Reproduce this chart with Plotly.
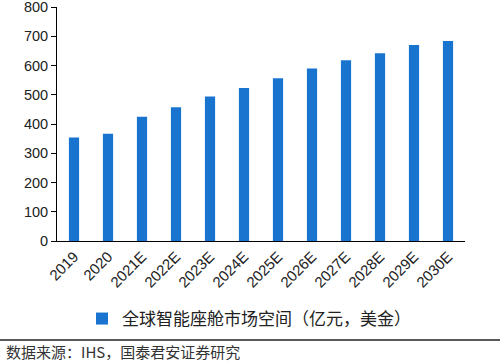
import plotly.graph_objects as go

categories = ["2019", "2020", "2021E", "2022E", "2023E", "2024E", "2025E",
              "2026E", "2027E", "2028E", "2029E", "2030E"]
values = [354, 367, 425, 457, 494, 523, 556, 590, 618, 642, 670, 684]
series_name = "全球智能座舱市场空间（亿元，美金）"
source_text = "数据来源：IHS，国泰君安证券研究"

L, R, T, B = 57, 35, 7, 121
W, H = 500, 362
pw = W - L - R
ph = H - T - B

def px_x(x):
    return (x - L) / pw

def px_y(y):
    return (H - B - y) / ph

fig = go.Figure()
fig.add_trace(go.Bar(
    x=categories, y=values, name=series_name,
    marker=dict(color="#1874CF", line=dict(width=0)),
    showlegend=True,
))

fig.update_layout(
    width=W, height=H,
    margin=dict(l=L, r=R, t=T, b=B, autoexpand=False),
    plot_bgcolor="white", paper_bgcolor="white",
    bargap=0.7,
    font=dict(family="Liberation Sans, Arial, Noto Sans CJK SC", color="#222"),
    showlegend=True,
    legend=dict(
        orientation="h", xref="container", yref="container",
        x=82 / W, xanchor="left",
        y=1 - 319 / H, yanchor="middle",
        font=dict(size=17, family="Noto Sans CJK SC", color="#222"),
        itemwidth=30,
    ),
    xaxis=dict(
        showline=True, linecolor="#000", linewidth=1,
        ticks="", tickangle=-45, automargin=False,
        tickfont=dict(size=15, color="#222"),
        showgrid=False,
    ),
    yaxis=dict(
        range=[0, 800], dtick=100, automargin=False,
        showline=True, linecolor="#000", linewidth=1,
        ticks="outside", ticklen=5, tickcolor="#000",
        tickfont=dict(size=14.5, color="#222"),
        ticklabeloverflow="allow",
        showgrid=False, zeroline=False,
    ),
)

fig.add_shape(type="line", xref="paper", yref="paper",
              x0=px_x(0), x1=px_x(W), y0=px_y(340), y1=px_y(340),
              line=dict(color="#222", width=1.5))
fig.add_annotation(text=source_text, xref="paper", yref="paper",
                   x=px_x(4), y=px_y(351), xanchor="left", yanchor="middle",
                   showarrow=False,
                   font=dict(size=15, family="Noto Sans CJK SC", color="#333"))

fig.write_html("out.html",
               config={"displayModeBar": False},
               post_script="document.body.style.margin='0';document.body.style.overflow='hidden';")
